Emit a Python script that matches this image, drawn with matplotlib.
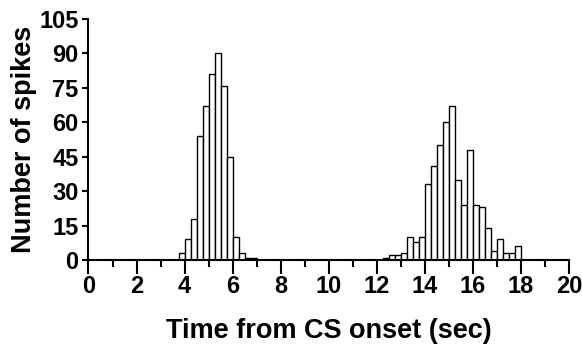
import numpy as np
import matplotlib
matplotlib.use('Agg')
import matplotlib.pyplot as plt
from matplotlib.ticker import MultipleLocator

plt.rcParams['font.family'] = ['Liberation Sans', 'DejaVu Sans']
plt.rcParams['font.weight'] = 'bold'

# spike counts in 0.25 s bins, first peak starts at 3.75 s, second at 12.25 s
bin_width = 0.25
peak1_start = 3.75
peak1_counts = [3, 9, 18, 54, 67, 81, 90, 76, 45, 10, 3, 1, 1]
peak2_start = 12.25
peak2_counts = [1, 2, 2, 3, 10, 8, 10, 33, 41, 50, 60, 67, 35, 24, 48, 24, 23, 14, 4, 9, 3, 3, 6]

x_ticks = list(range(0, 21, 2))
y_ticks = [0, 15, 30, 45, 60, 75, 90, 105]

lefts1 = peak1_start + bin_width * np.arange(len(peak1_counts))
lefts2 = peak2_start + bin_width * np.arange(len(peak2_counts))

fig = plt.figure(figsize=(5.82, 3.47), dpi=100)
ax = fig.add_axes([0.152, 0.251, 0.826, 0.694])

for lefts, counts in [(lefts1, peak1_counts), (lefts2, peak2_counts)]:
    ax.bar(lefts, counts, width=bin_width, align='edge', color='white',
           edgecolor='black', linewidth=1.0, zorder=2)

ax.set_xlim(0, 20)
ax.set_ylim(0, 105)
ax.spines['top'].set_visible(False)
ax.spines['right'].set_visible(False)
ax.spines['left'].set_linewidth(1.5)
ax.spines['bottom'].set_linewidth(1.5)
ax.spines['bottom'].set_zorder(3)

ax.set_xticks(x_ticks)
ax.xaxis.set_minor_locator(MultipleLocator(1))
ax.set_yticks(y_ticks)
ax.tick_params(axis='x', which='major', direction='out', length=10, width=1.5,
               labelsize=17, pad=1)
ax.tick_params(axis='x', which='minor', direction='out', length=5, width=1.5)
ax.tick_params(axis='y', which='major', direction='out', length=4, width=1.5,
               labelsize=17, pad=3)

ax.set_xlabel('Time from CS onset (sec)', fontsize=19.5, fontweight='bold', labelpad=14)
ax.set_ylabel('Number of spikes', fontsize=19.5, fontweight='bold', labelpad=2)

fig.savefig('out.png', dpi=100)
